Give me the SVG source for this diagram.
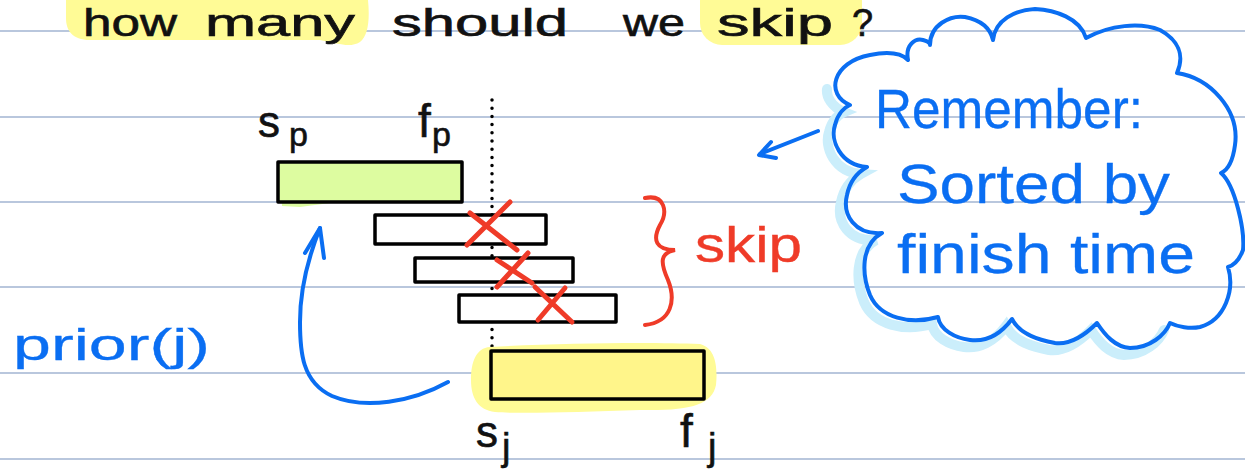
<svg xmlns="http://www.w3.org/2000/svg" width="1245" height="476" viewBox="0 0 1245 476">
  <defs>
    <style>
      .rule { stroke: #b9c7dd; stroke-width: 2; }
      .hand { font-family: "Liberation Sans", "DejaVu Sans", sans-serif; }
      .ink { fill: #111; stroke: #111; stroke-width: 0.6; }
      .blue { fill: #0a6ef2; stroke: #0a6ef2; stroke-width: 0.3; }
      .red { fill: #ef3b28; stroke: #ef3b28; stroke-width: 0.4; }
      .bar { stroke: #000; stroke-width: 3.5; stroke-linejoin: round; }
      .hl { fill: #fffb96; }
      .xmark { stroke: #ef3b28; stroke-width: 5; stroke-linecap: round; fill: none; }
      .bline { stroke: #0a6ef2; stroke-width: 4; fill: none; stroke-linecap: round; stroke-linejoin: round; }
    </style>
  </defs>

  <rect width="1245" height="476" fill="#ffffff"/>

  <!-- notebook ruling -->
  <g id="ruling">
    <line class="rule" x1="0" y1="31" x2="1245" y2="31"/>
    <line class="rule" x1="0" y1="117" x2="1245" y2="117"/>
    <line class="rule" x1="0" y1="202" x2="1245" y2="202"/>
    <line class="rule" x1="0" y1="287" x2="1245" y2="287"/>
    <line class="rule" x1="0" y1="373" x2="1245" y2="373"/>
    <line class="rule" x1="0" y1="459" x2="1245" y2="459"/>
  </g>

  <!-- heading with highlighter -->
  <g id="title">
    <path class="hl" d="M66,0 L368,0 C370,20 368,36 360,42 C350,48 340,44 320,40 L90,40 C72,40 66,30 66,18 Z"/>
    <rect class="hl" x="700" y="-20" width="162" height="65" rx="22"/>
    <text class="hand ink" font-size="38" y="36">
      <tspan x="83" textLength="94" lengthAdjust="spacingAndGlyphs">how</tspan>
      <tspan x="205" textLength="150" lengthAdjust="spacingAndGlyphs">many</tspan>
      <tspan x="392" textLength="176" lengthAdjust="spacingAndGlyphs">should</tspan>
      <tspan x="623" textLength="62" lengthAdjust="spacingAndGlyphs">we</tspan>
      <tspan x="717" textLength="116" lengthAdjust="spacingAndGlyphs">skip</tspan>
      <tspan x="852">?</tspan>
    </text>
  </g>

  <!-- dotted time marker at s_j -->
  <g id="marker">
    <line x1="492" y1="100" x2="492" y2="352" stroke="#000" stroke-width="3.5" stroke-linecap="round" stroke-dasharray="0 8.2"/>
  </g>

  <!-- interval p (prior) -->
  <g id="interval-p">
    <path d="M280,170 L458,166 L460,200 L330,203 L300,207 L282,206 Z" fill="#ddfca0"/>
    <rect class="bar" x="278" y="162" width="184" height="40" fill="#ddfca0"/>
    <text class="hand ink" font-size="44" x="258" y="137">s</text>
    <text class="hand ink" font-size="34" x="289" y="146">p</text>
    <text class="hand ink" font-size="46" x="418" y="137">f</text>
    <text class="hand ink" font-size="34" x="432" y="146">p</text>
  </g>

  <!-- skipped intervals -->
  <g id="interval-a">
    <rect class="bar" x="375" y="215" width="171" height="29" fill="#fff"/>
  </g>
  <g id="interval-b">
    <rect class="bar" x="415" y="258" width="158" height="24" fill="#fff"/>
  </g>
  <g id="interval-c">
    <rect class="bar" x="459" y="295" width="157" height="27" fill="#fff"/>
  </g>

  <!-- interval j -->
  <g id="interval-j">
    <path class="hl" d="M490,347 C560,343 650,342 700,344 C715,348 718,365 716,385 C712,405 690,411 640,410 C580,412 520,414 495,412 C478,410 471,398 471,380 C471,362 476,348 490,347 Z"/>
    <rect class="bar" x="491" y="351" width="213" height="48" fill="#fff58a"/>
    <text class="hand ink" font-size="44" x="476" y="447">s</text>
    <text class="hand ink" font-size="38" x="502" y="460">j</text>
    <text class="hand ink" font-size="46" x="680" y="447">f</text>
    <text class="hand ink" font-size="38" x="708" y="460">j</text>
  </g>

  <!-- crossed out -->
  <g id="crosses">
    <path class="xmark" d="M470,213 L517,250 M510,202 L467,245"/>
    <path class="xmark" d="M497,260 L532,283 M528,253 L497,287"/>
    <path class="xmark" d="M535,287 L572,322 M565,288 L538,320"/>
  </g>

  <!-- skip brace -->
  <g id="skip">
    <path d="M645,198 C665,194 668,212 660,225 C652,240 656,250 675,250 C660,253 660,262 668,280 C676,300 672,322 645,325" fill="none" stroke="#ef3b28" stroke-width="4" stroke-linecap="round"/>
    <text class="hand red" font-size="50" x="695" y="262" textLength="107" lengthAdjust="spacingAndGlyphs">skip</text>
  </g>

  <!-- prior(j) label -->
  <g id="prior">
    <text class="hand blue" font-size="44" x="13" y="360" textLength="197" lengthAdjust="spacingAndGlyphs">prior(j)</text>
  </g>

  <!-- connectors -->
  <g id="connectors">
    <path class="bline" d="M448,382 C412,402 365,410 332,396 C302,382 300,352 300,322 C300,292 308,258 320,228"/>
    <path class="bline" d="M305,253 L320,228 L324,258"/>
    <path class="bline" d="M818,131 L760,154"/>
    <path class="bline" d="M771,142 L759,155 L776,158"/>
  </g>

  <!-- reminder cloud -->
  <g id="reminder">
    <path transform="translate(-6,7)" d="M1170,323 C1165,335 1150,348 1130,348 C1115,347 1105,335 1097,323 C1085,335 1070,345 1055,343 C1040,340 1020,335 1012,319 C1000,335 985,342 970,340 C955,338 940,330 938,317 C910,325 880,318 870,295 C862,275 860,245 882,233 C855,235 842,215 847,195 C850,180 858,172 867,167 C840,165 830,140 835,125 C838,113 845,107 850,105 C838,100 832,90 833,82" fill="none" stroke="#cbeefb" stroke-width="10" stroke-linecap="round"/>
    <path d="M850,105 C825,95 832,62 870,55 C885,52 900,52 908,60 C905,45 915,38 923,40 C927,41 930,43 930,45 C930,25 950,15 965,17 C980,20 990,27 993,40 C995,20 1015,10 1035,9 C1055,10 1080,18 1086,38 C1110,25 1140,22 1160,30 C1178,40 1185,55 1177,73 C1210,78 1240,110 1235,145 C1233,160 1228,170 1221,173 C1235,185 1245,230 1243,250 C1240,258 1235,265 1228,267 C1235,290 1225,320 1200,327 C1190,329 1178,327 1170,323 C1165,335 1150,348 1130,348 C1115,347 1105,335 1097,323 C1085,335 1070,345 1055,343 C1040,340 1020,335 1012,319 C1000,335 985,342 970,340 C955,338 940,330 938,317 C910,325 880,318 870,295 C862,275 860,245 882,233 C855,235 842,215 847,195 C850,180 858,172 867,167 C840,165 830,140 835,125 C838,113 845,107 850,105 Z" fill="none" stroke="#0a6ef2" stroke-width="4" stroke-linejoin="round"/>
    <text class="hand blue" font-size="56" x="875" y="128" textLength="268" lengthAdjust="spacingAndGlyphs">Remember:</text>
    <text class="hand blue" font-size="56" x="897" y="203" textLength="273" lengthAdjust="spacingAndGlyphs">Sorted by</text>
    <text class="hand blue" font-size="56" x="897" y="273" textLength="298" lengthAdjust="spacingAndGlyphs">finish time</text>
  </g>
</svg>
